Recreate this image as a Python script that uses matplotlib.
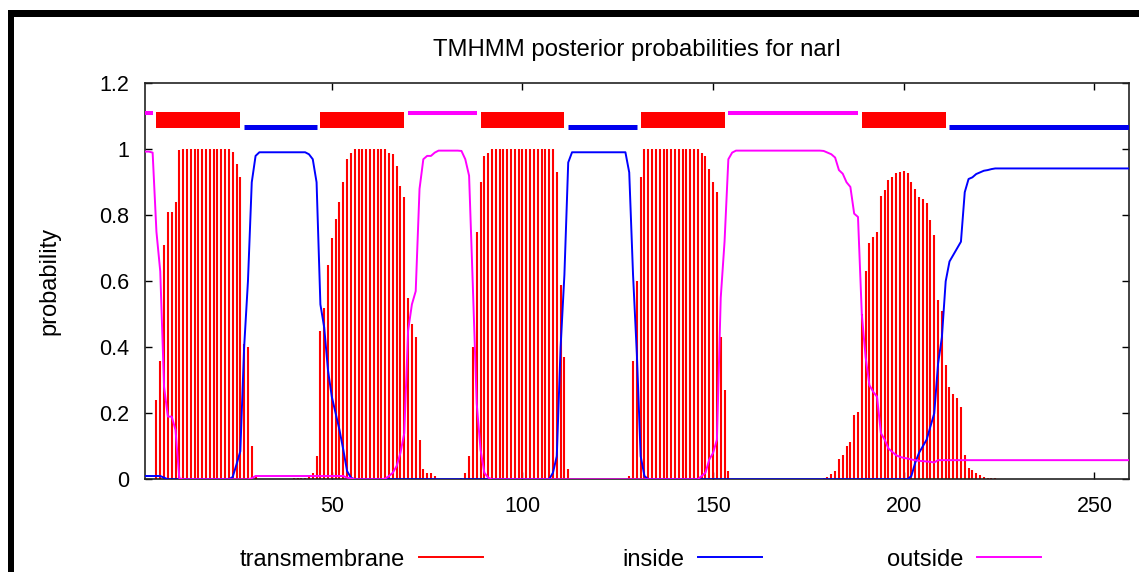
import matplotlib
matplotlib.use("Agg")
import matplotlib.pyplot as plt
from matplotlib.patches import Rectangle
from matplotlib.lines import Line2D
import numpy as np

# ---------------- data ----------------
title = "TMHMM posterior probabilities for narI"
ylabel = "probability"
x_ticks = [50, 100, 150, 200, 250]
y_ticks = [0, 0.2, 0.4, 0.6, 0.8, 1.0, 1.2]
y_tick_labels = ["0", "0.2", "0.4", "0.6", "0.8", "1", "1.2"]
legend_labels = ["transmembrane", "inside", "outside"]

# posterior probability of transmembrane, per residue 1..259
tm = [
    0, 0, 0, 0.24, 0.36, 0.71, 0.81, 0.81, 0.84, 0.997,            # 1-10
    1, 1, 1, 1, 1, 1, 1, 1, 1, 1,                                  # 11-20
    1, 1, 1, 0.993, 0.955, 0.915, 0.41, 0.40, 0.10, 0.01,          # 21-30
    0, 0, 0, 0, 0, 0, 0, 0, 0, 0.003,                              # 31-40
    0.003, 0.004, 0.005, 0.01, 0.02, 0.07, 0.45, 0.52, 0.65, 0.73, # 41-50
    0.79, 0.84, 0.90, 0.97, 0.99, 1, 1, 1, 1, 1,                   # 51-60
    1, 1, 1, 1, 0.99, 0.985, 0.95, 0.89, 0.855, 0.55,              # 61-70
    0.47, 0.43, 0.12, 0.03, 0.02, 0.02, 0.01, 0, 0, 0,             # 71-80
    0, 0, 0, 0.005, 0.02, 0.07, 0.40, 0.75, 0.90, 0.98,            # 81-90
    0.99, 1, 1, 1, 1, 1, 1, 1, 1, 1,                               # 91-100
    1, 1, 1, 1, 1, 1, 1, 1, 0.93, 0.59,                            # 101-110
    0.37, 0.03, 0, 0, 0, 0, 0, 0, 0, 0,                            # 111-120
    0, 0, 0, 0, 0, 0, 0, 0.01, 0.36, 0.60,                         # 121-130
    0.915, 1, 1, 1, 1, 1, 1, 1, 1, 1,                              # 131-140
    1, 1, 1, 1, 1, 1, 0.99, 0.98, 0.94, 0.90,                      # 141-150
    0.87, 0.43, 0.27, 0.026, 0, 0, 0, 0, 0, 0,                     # 151-160
    0, 0, 0, 0, 0, 0, 0, 0, 0, 0,                                  # 161-170
    0, 0, 0, 0, 0, 0, 0, 0, 0.004, 0.008,                          # 171-180
    0.015, 0.026, 0.063, 0.074, 0.10, 0.114, 0.195, 0.205, 0.50, 0.63,   # 181-190
    0.715, 0.735, 0.75, 0.86, 0.877, 0.907, 0.917, 0.927, 0.932, 0.935, # 191-200
    0.927, 0.90, 0.88, 0.856, 0.85, 0.836, 0.785, 0.74, 0.543, 0.51,    # 201-210
    0.346, 0.28, 0.26, 0.245, 0.22, 0.073, 0.033, 0.028, 0.018, 0.013,  # 211-220
    0.008, 0.005, 0.004, 0.003, 0, 0, 0, 0, 0, 0,                  # 221-230
    0, 0, 0, 0, 0, 0, 0, 0, 0, 0,                                  # 231-240
    0, 0, 0, 0, 0, 0, 0, 0, 0, 0,                                  # 241-250
    0, 0, 0, 0, 0, 0, 0, 0, 0,                                     # 251-259
]

# posterior probability of inside
inside = [
    0.01, 0.01, 0.01, 0.01, 0.01, 0.005, 0, 0, 0, 0,               # 1-10
    0, 0, 0, 0, 0, 0, 0, 0, 0, 0,                                  # 11-20
    0, 0, 0, 0.007, 0.045, 0.085, 0.40, 0.60, 0.90, 0.98,          # 21-30
    0.991, 0.991, 0.991, 0.991, 0.991, 0.991, 0.991, 0.991, 0.991, 0.991,  # 31-40
    0.991, 0.991, 0.991, 0.985, 0.97, 0.90, 0.53, 0.46, 0.33, 0.25,       # 41-50
    0.20, 0.15, 0.09, 0.025, 0.005, 0, 0, 0, 0, 0,                 # 51-60
    0, 0, 0, 0, 0, 0, 0, 0, 0, 0,                                  # 61-70
    0, 0, 0, 0, 0, 0, 0, 0, 0, 0,                                  # 71-80
    0, 0, 0, 0, 0, 0, 0, 0, 0, 0,                                  # 81-90
    0, 0, 0, 0, 0, 0, 0, 0, 0, 0,                                  # 91-100
    0, 0, 0, 0, 0, 0, 0, 0.02, 0.07, 0.40,                         # 101-110
    0.62, 0.96, 0.991, 0.991, 0.991, 0.991, 0.991, 0.991, 0.991, 0.991,   # 111-120
    0.991, 0.991, 0.991, 0.991, 0.991, 0.991, 0.991, 0.93, 0.62, 0.38,    # 121-130
    0.07, 0.01, 0, 0, 0, 0, 0, 0, 0, 0,                            # 131-140
    0, 0, 0, 0, 0, 0, 0, 0, 0, 0,                                  # 141-150
    0, 0, 0, 0, 0, 0, 0, 0, 0, 0,                                  # 151-160
    0, 0, 0, 0, 0, 0, 0, 0, 0, 0,                                  # 161-170
    0, 0, 0, 0, 0, 0, 0, 0, 0, 0,                                  # 171-180
    0, 0, 0, 0, 0, 0, 0, 0, 0, 0,                                  # 181-190
    0, 0, 0, 0, 0, 0, 0, 0, 0, 0,                                  # 191-200
    0, 0.01, 0.05, 0.08, 0.10, 0.12, 0.16, 0.20, 0.35, 0.43,       # 201-210
    0.60, 0.66, 0.68, 0.70, 0.72, 0.87, 0.91, 0.915, 0.925, 0.93,  # 211-220
    0.935, 0.937, 0.94, 0.942, 0.942, 0.942, 0.942, 0.942, 0.942, 0.942,  # 221-230
    0.942, 0.942, 0.942, 0.942, 0.942, 0.942, 0.942, 0.942, 0.942, 0.942,  # 231-240
    0.942, 0.942, 0.942, 0.942, 0.942, 0.942, 0.942, 0.942, 0.942, 0.942,  # 241-250
    0.942, 0.942, 0.942, 0.942, 0.942, 0.942, 0.942, 0.942, 0.942,         # 251-259
]

# posterior probability of outside
outside = [
    0.993, 0.993, 0.99, 0.75, 0.63, 0.28, 0.19, 0.19, 0.15, 0.003, # 1-10
    0, 0, 0, 0, 0, 0, 0, 0, 0, 0,                                  # 11-20
    0, 0, 0, 0, 0, 0, 0, 0, 0.003, 0.01,                           # 21-30
    0.01, 0.01, 0.01, 0.01, 0.01, 0.01, 0.01, 0.01, 0.01, 0.01,    # 31-40
    0.01, 0.01, 0.01, 0.01, 0.01, 0.01, 0.01, 0.01, 0.01, 0.01,    # 41-50
    0.01, 0.01, 0.01, 0.005, 0.003, 0, 0, 0, 0, 0,                 # 51-60
    0, 0, 0, 0.002, 0.01, 0.02, 0.04, 0.08, 0.14, 0.45,            # 61-70
    0.53, 0.57, 0.88, 0.97, 0.98, 0.98, 0.99, 0.996, 0.996, 0.996, # 71-80
    0.996, 0.996, 0.996, 0.995, 0.97, 0.92, 0.58, 0.23, 0.09, 0.02,  # 81-90
    0.005, 0, 0, 0, 0, 0, 0, 0, 0, 0,                              # 91-100
    0, 0, 0, 0, 0, 0, 0, 0, 0, 0,                                  # 101-110
    0, 0, 0, 0, 0, 0, 0, 0, 0, 0,                                  # 111-120
    0, 0, 0, 0, 0, 0, 0, 0, 0, 0,                                  # 121-130
    0, 0, 0, 0, 0, 0, 0, 0, 0, 0,                                  # 131-140
    0, 0, 0, 0, 0, 0, 0.01, 0.02, 0.06, 0.08,                      # 141-150
    0.12, 0.55, 0.72, 0.97, 0.99, 0.996, 0.996, 0.996, 0.996, 0.996,     # 151-160
    0.996, 0.996, 0.996, 0.996, 0.996, 0.996, 0.996, 0.996, 0.996, 0.996, # 161-170
    0.996, 0.996, 0.996, 0.996, 0.996, 0.996, 0.996, 0.996, 0.995, 0.99,  # 171-180
    0.985, 0.975, 0.937, 0.926, 0.90, 0.886, 0.805, 0.795, 0.50, 0.37,    # 181-190
    0.285, 0.265, 0.25, 0.14, 0.12, 0.093, 0.083, 0.073, 0.068, 0.065,    # 191-200
    0.063, 0.06, 0.058, 0.056, 0.055, 0.054, 0.053, 0.051, 0.058, 0.058,  # 201-210
    0.058, 0.058, 0.058, 0.058, 0.058, 0.058, 0.058, 0.058, 0.058, 0.058, # 211-220
    0.058, 0.058, 0.058, 0.058, 0.058, 0.058, 0.058, 0.058, 0.058, 0.058, # 221-230
    0.058, 0.058, 0.058, 0.058, 0.058, 0.058, 0.058, 0.058, 0.058, 0.058, # 231-240
    0.058, 0.058, 0.058, 0.058, 0.058, 0.058, 0.058, 0.058, 0.058, 0.058, # 241-250
    0.058, 0.058, 0.058, 0.058, 0.058, 0.058, 0.058, 0.058, 0.058,        # 251-259
]

# predicted topology segments (residue ranges)
seg_start = [1, 4, 27, 47, 70, 89, 112, 131, 154, 189, 212]
seg_end = [3, 26, 46, 69, 88, 111, 130, 153, 188, 211, 259]
seg_type = ["outside", "TM", "inside", "TM", "outside", "TM",
            "inside", "TM", "outside", "TM", "inside"]

# ---------------- styling ----------------
W, H = 1139, 572
RED, BLUE, MAG = "#ff0000", "#0000ff", "#ff00ff"
plt.rcParams["font.family"] = ["Liberation Sans", "DejaVu Sans"]

fig = plt.figure(figsize=(W / 100, H / 100), dpi=100)
fig.patch.set_facecolor("white")

ax_l, ax_r, ax_t, ax_b = 145, 1128.7, 83.3, 479.3
ax = fig.add_axes([ax_l / W, 1 - ax_b / H, (ax_r - ax_l) / W, (ax_b - ax_t) / H])

x = np.arange(1, len(tm) + 1)
ax.vlines(x, 0, tm, colors=RED, lw=1.5, zorder=2)
ax.plot(x, inside, color=BLUE, lw=1.4, zorder=3)
ax.plot(x, outside, color=MAG, lw=1.4, zorder=4)

for s, e, t in zip(seg_start, seg_end, seg_type):
    if t == "TM":
        ax.fill_between([s, e], 1.066, 1.1145, color=RED, lw=0, zorder=3)
    elif t == "inside":
        ax.plot([s, e], [1.068, 1.068], color="#0000ee", lw=3.6,
                solid_capstyle="butt", zorder=3)
    else:
        ax.plot([s, e], [1.1115, 1.1115], color=MAG, lw=2.9,
                solid_capstyle="butt", zorder=3)

ax.set_xlim(1, 259)
ax.set_ylim(0, 1.2)
ax.set_xticks(x_ticks)
ax.set_xticklabels([str(v) for v in x_ticks])
ax.set_yticks(y_ticks)
ax.set_yticklabels(y_tick_labels)
ax.tick_params(axis="both", direction="in", length=5, width=1.0,
               top=True, right=True, labelsize=15.5, colors="black")
ax.tick_params(axis="x", pad=12)
ax.tick_params(axis="y", pad=11.5)
for sp in ax.spines.values():
    sp.set_linewidth(1.2)
    sp.set_color("#222222")

# title and y label
fig.text(637 / W, 1 - 56 / H, title, ha="center", va="baseline", fontsize=17.2)
fig.text(49 / W, 1 - 281 / H, ylabel, rotation=90, ha="center", va="center",
         fontsize=17)

# legend (gnuplot style: text, then sample line)
leg_colors = [RED, BLUE, MAG]
for i, (lab, c) in enumerate(zip(legend_labels, leg_colors)):
    line_end = 483 + 279 * i
    line_start = line_end - 64
    fig.text((line_start - 14) / W, 1 - 566 / H, lab, ha="right",
             va="baseline", fontsize=17)
    fig.add_artist(Line2D([line_start / W, line_end / W],
                          [1 - 557.3 / H, 1 - 557.3 / H], color=c, lw=1.4,
                          transform=fig.transFigure))

# black frame at top and left of the picture
fig.add_artist(Rectangle((8 / W, 1 - 17 / H), (W - 8) / W, 7 / H,
                         transform=fig.transFigure, facecolor="black",
                         edgecolor="none"))
fig.add_artist(Rectangle((8 / W, 0), 5.5 / W, (H - 10) / H,
                         transform=fig.transFigure, facecolor="black",
                         edgecolor="none"))

fig.savefig("out.png", dpi=100, facecolor="white")
